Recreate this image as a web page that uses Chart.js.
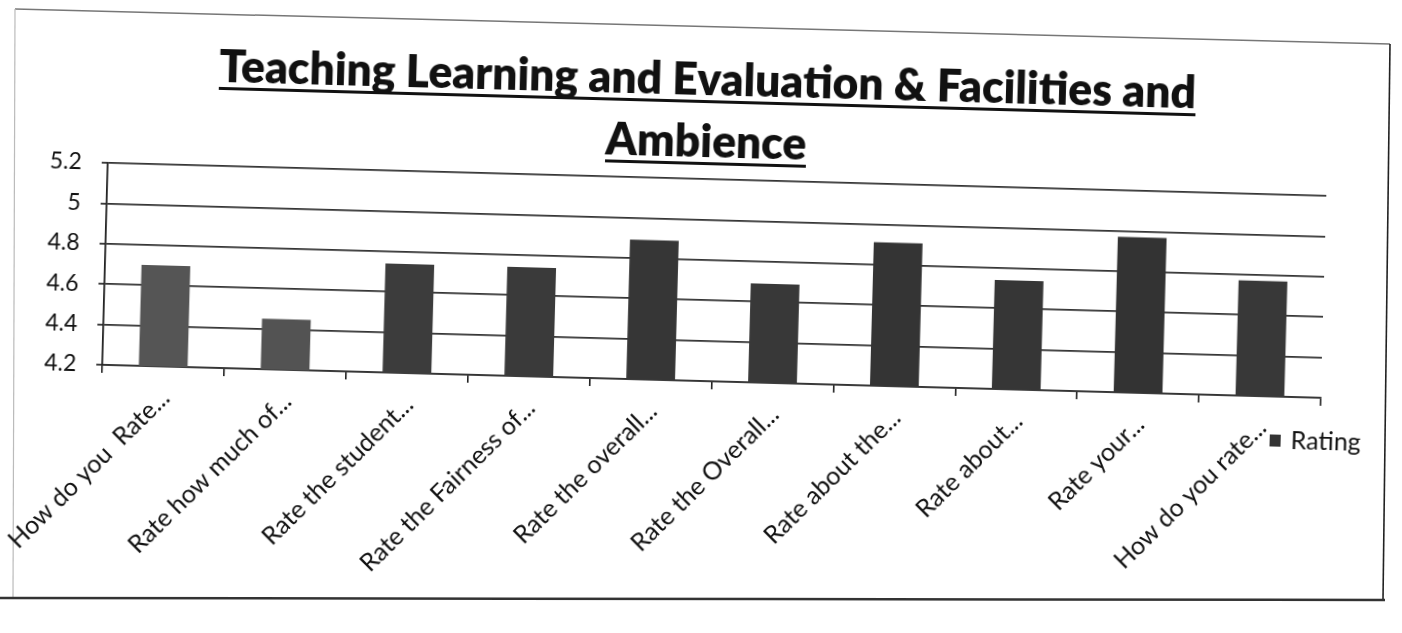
<!DOCTYPE html>
<html>
<head>
<meta charset="utf-8">
<script src="https://cdn.jsdelivr.net/npm/chart.js@4.4.1/dist/chart.umd.min.js"></script>
<style>
html, body { margin: 0; padding: 0; background: #fff; overflow: hidden; }
#box {
  position: absolute; left: 0px; top: 27px; width: 1387px; height: 565px;
  transform: rotate(1.55deg);
  transform-origin: 701px 282px;
}
#edges { position: absolute; left: 0; top: 0; }
</style>
</head>
<body>
<svg id="edges" width="1402" height="633">
  <line x1="15" y1="9" x2="1390" y2="44" stroke="#777" stroke-width="1.5"/>
  <line x1="15" y1="9" x2="13" y2="598" stroke="#bbb" stroke-width="1.2"/>
  <line x1="1390" y1="44" x2="1383" y2="600" stroke="#222" stroke-width="1.6"/>
  <line x1="0" y1="598" x2="1385" y2="600" stroke="#333" stroke-width="2.5"/>
</svg>
<div id="box"><canvas id="myChart" width="1387" height="565"></canvas></div>
<script>
// survey questions (shortened, as on the axis)
const categories = [
  "How do you  Rate...",
  "Rate how much of...",
  "Rate the student...",
  "Rate the Fairness of...",
  "Rate the overall...",
  "Rate the Overall...",
  "Rate about the...",
  "Rate about...",
  "Rate your...",
  "How do you rate..."
];
const ratings = [4.70, 4.45, 4.74, 4.74, 4.89, 4.69, 4.91, 4.74, 4.97, 4.77];
const yTicks = [4.2, 4.4, 4.6, 4.8, 5, 5.2];
const seriesName = "Rating";
const titleLines = ["Teaching Learning and Evaluation & Facilities and", "Ambience"];

const barColors = ["#555555", "#535353", "#3c3c3c", "#3a3a3a", "#363636", "#383838", "#343434", "#363636", "#333333", "#383838"];

// two line title with underline, squeezed a bit like Calibri
const underlinedTitle = {
  id: "underlinedTitle",
  afterDraw(chart) {
    const ctx = chart.ctx;
    const cx = (chart.chartArea.left + chart.chartArea.right) / 2 - 12;
    ctx.save();
    ctx.font = "800 46px Lato";
    ctx.fillStyle = "#111";
    ctx.textAlign = "center";
    ctx.textBaseline = "alphabetic";
    const squeeze = Math.min(1, 977 / ctx.measureText(titleLines[0]).width);
    for (let i = 0; i < titleLines.length; i++) {
      const y = 68 + i * 62;
      const w = ctx.measureText(titleLines[i]).width * squeeze;
      ctx.save();
      ctx.translate(cx, y);
      ctx.scale(squeeze, 1);
      ctx.fillText(titleLines[i], 0, 0);
      ctx.restore();
      ctx.fillRect(cx - w / 2, y + 5, w, 3);
    }
    ctx.restore();
  }
};

// small legend sitting at the end of the x axis labels
const sideLegend = {
  id: "sideLegend",
  afterDraw(chart) {
    const ctx = chart.ctx;
    const ds = chart.data.datasets[0];
    const x = chart.chartArea.right - 50;
    const y = chart.chartArea.bottom + 44;
    ctx.save();
    ctx.fillStyle = "#333";
    ctx.fillRect(x, y - 6, 11, 12);
    ctx.fillStyle = "#111";
    ctx.font = "25px Lato";
    ctx.textBaseline = "middle";
    ctx.fillText(ds.label, x + 21, y);
    ctx.restore();
  }
};

const ctx = document.getElementById("myChart");

new Chart(ctx, {
  type: "bar",
  data: {
    labels: categories,
    datasets: [{
      label: seriesName,
      data: ratings,
      backgroundColor: barColors,
      barPercentage: 0.4,
      categoryPercentage: 1.0
    }]
  },
  options: {
    responsive: false,
    animation: false,
    layout: { padding: { left: 0, right: 64, top: 152, bottom: 0 } },
    plugins: {
      legend: { display: false },
      title: { display: false },
      tooltip: { enabled: false }
    },
    scales: {
      x: {
        afterFit: (s) => { s.height = 211; s.paddingLeft = 0; s.paddingRight = 0; },
        ticks: {
          autoSkip: false, maxRotation: 46, minRotation: 46,
          padding: 9, labelOffset: 3,
          color: "#111", font: { family: "Lato", size: 25 }
        },
        grid: { drawOnChartArea: false, tickLength: 8, color: "#222", lineWidth: 1.6 },
        border: { color: "#333", width: 1.8 }
      },
      y: {
        min: 4.2,
        max: 5.2,
        afterBuildTicks: (s) => { s.ticks = yTicks.map(v => ({ value: v })); },
        afterFit: (s) => { s.width = 104; },
        ticks: {
          padding: 20, color: "#111", font: { family: "Lato", size: 23 },
          callback: (v) => String(v)
        },
        grid: { color: "#333", lineWidth: 1.8, tickLength: 6 },
        border: { color: "#222", width: 1.8 }
      }
    }
  },
  plugins: [underlinedTitle, sideLegend]
});
</script>
</body>
</html>
